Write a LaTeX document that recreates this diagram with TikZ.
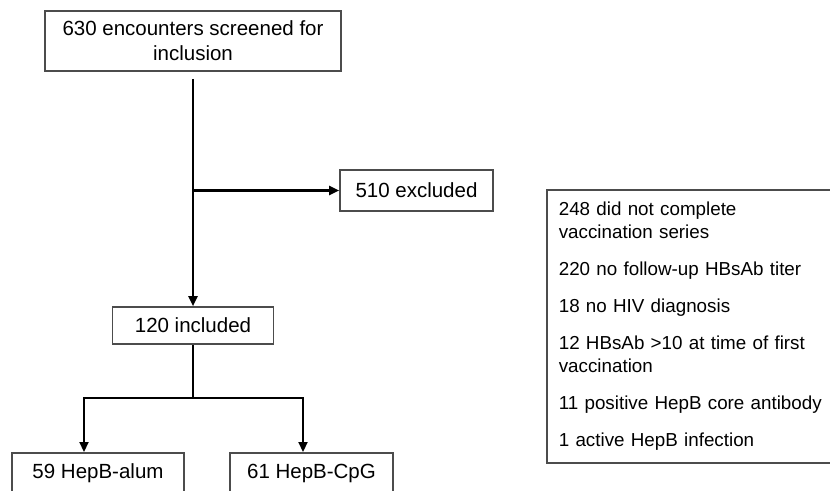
\documentclass[tikz,border=0pt]{standalone}
\usepackage{fontspec}
\setmainfont{Liberation Sans}
\usetikzlibrary{arrows.meta}
\tikzset{
	box/.style={draw=black!70,line width=1.6pt,fill=white,inner sep=0pt,font=\fontsize{20.5}{25}\selectfont},
	link/.style={line width=2.2pt},
	flow/.style={link,-{Triangle[length=10pt,width=9pt]}},
}
\begin{document}
\begin{tikzpicture}[x=1pt,y=-1pt]
	\useasboundingbox (0,0) rectangle (830,490);

	\node[box,minimum width=296pt,minimum height=60pt,align=center] (screened) at (193,41) {630 encounters screened for\\inclusion};
	\node[box,minimum width=153pt,minimum height=41pt] (excluded) at (416.5,190.5) {510 excluded};
	\node[box,minimum width=161pt,minimum height=37pt] (included) at (193,325.5) {120 included};

	\node[box,anchor=north,minimum width=172pt,text height=25.5pt,text depth=20pt] (alum) at (98,452) {59 HepB-alum};
	\node[box,anchor=north,minimum width=163pt,text height=25.5pt,text depth=20pt] (cpg) at (311.5,452) {61 HepB-CpG};

	\node[box,anchor=north west,font=\fontsize{18.8}{23}\selectfont,text width=270pt,align=left,inner xsep=12pt,minimum height=273pt] (reasons) at (546,189) {248 did not complete\\vaccination series\\[14pt]220 no follow-up HBsAb titer\\[14pt]18 no HIV diagnosis\\[14pt]12 HBsAb >10 at time of first\\vaccination\\[14pt]11 positive HepB core antibody\\[14pt]1 active HepB infection};

	\coordinate (split) at (193,190.5);
	\coordinate (fork) at (193,398);

	\draw[flow,shorten <=7pt] (screened) -- (included);
	\draw[flow] (split) -- (excluded);
	\draw[link] (included) -- (fork);
	\draw[flow] (fork) -| ([xshift=-14pt]alum.north);
	\draw[flow] (fork) -| ([xshift=-8.5pt]cpg.north);
\end{tikzpicture}
\end{document}
